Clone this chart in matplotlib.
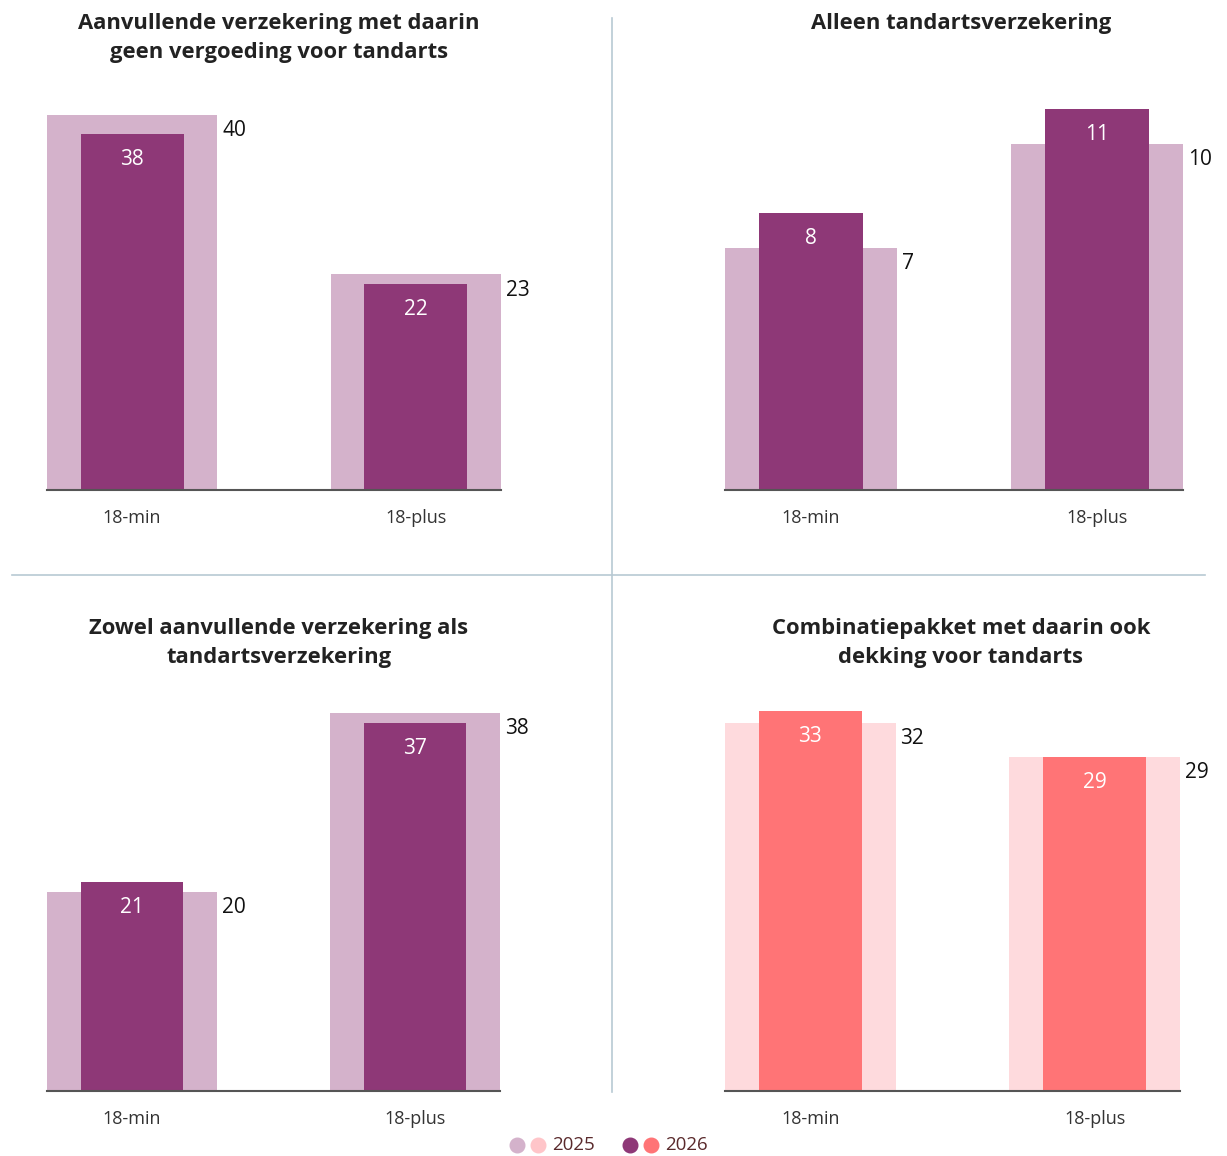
import matplotlib
matplotlib.use("Agg")
import matplotlib.pyplot as plt
from matplotlib.lines import Line2D

W, H = 1227, 1156
fig = plt.figure(figsize=(W / 100, H / 100), dpi=100)
plt.rcParams['font.family'] = ['Open Sans', 'DejaVu Sans']

categories = ["18-min", "18-plus"]
titles = [
    "Aanvullende verzekering met daarin\ngeen vergoeding voor tandarts",
    "Alleen tandartsverzekering",
    "Zowel aanvullende verzekering als\ntandartsverzekering",
    "Combinatiepakket met daarin ook\ndekking voor tandarts",
]
values_2025 = [[40, 23], [7, 10], [20, 38], [32, 29]]
values_2026 = [[38, 22], [8, 11], [21, 37], [33, 29]]

purple_light = "#d4b2cb"
purple_dark = "#8e3877"
pink_light = "#fedadd"
pink_dark = "#ff7476"
colors = [(purple_light, purple_dark)] * 3 + [(pink_light, pink_dark)]

# panel layout in pixels: (left, right, baseline, title_center_x, title_top, px height of max bar)
panels = [
    (47, 501, 490, 279, 13, 375),
    (725, 1183, 490, 961, 13, 381),
    (47, 500, 1091, 279, 618, 378),
    (725, 1180, 1091, 961, 618, 380),
]
AX_H = 390

for i, (l, r, base, tcx, ttop, hmax) in enumerate(panels):
    ax = fig.add_axes([l / W, 1 - base / H, (r - l) / W, AX_H / H])
    c_light, c_dark = colors[i]
    v25 = values_2025[i]
    v26 = values_2026[i]
    x = list(range(len(categories)))
    ax.bar(x, v25, width=0.6, color=c_light, zorder=1)
    ax.bar(x, v26, width=0.363, color=c_dark, zorder=2)
    ax.set_xlim(-0.3, 1.3)
    ax.set_ylim(0, max(v25 + v26) * AX_H / hmax)
    for s in ["top", "right", "left"]:
        ax.spines[s].set_visible(False)
    ax.spines["bottom"].set_color("#555555")
    ax.spines["bottom"].set_linewidth(1.5)
    ax.set_yticks([])
    ax.set_xticks(x)
    ax.set_xticklabels(categories, fontsize=13, color="#333333")
    ax.tick_params(axis="x", length=0, pad=14)
    for xi, a, b in zip(x, v25, v26):
        ax.annotate(str(b), (xi, b), xytext=(0, -18.3), textcoords="offset points",
                    ha="center", va="center", color="white", fontsize=15)
        ax.annotate(str(a), (xi + 0.3, a), xytext=(3.5, -11.3), textcoords="offset points",
                    ha="left", va="center", color="#111111", fontsize=15)
    fig.text(tcx / W, 1 - ttop / H, titles[i], ha="center", va="top",
             fontsize=15.8, fontweight="bold", color="#222222", linespacing=1.5)

# dividers
div_col = "#b8c9d3"
fig.add_artist(Line2D([612 / W, 612 / W], [1 - 18 / H, 1 - 1092 / H], color=div_col, lw=1.2))
fig.add_artist(Line2D([12 / W, 1205 / W], [1 - 575 / H, 1 - 575 / H], color=div_col, lw=1.2))

# legend
ly = 1 - 1145 / H
for px, col in [(517, purple_light), (538, "#ffc5c9"), (630, purple_dark), (651, pink_dark)]:
    fig.add_artist(Line2D([px / W], [ly], marker="o", markersize=10.5, color=col, lw=0))
fig.text(552 / W, ly, "2025", ha="left", va="center", fontsize=13.5, color="#5a2a2c")
fig.text(665 / W, ly, "2026", ha="left", va="center", fontsize=13.5, color="#5a2a2c")

fig.savefig("out.png", dpi=100, facecolor="white")
